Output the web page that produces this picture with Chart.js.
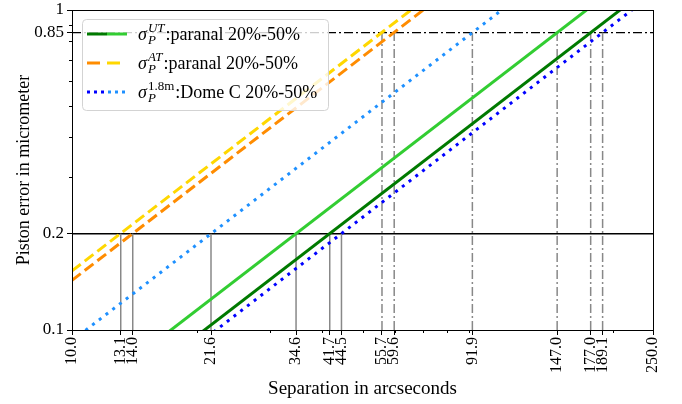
<!DOCTYPE html>
<html>
<head>
<meta charset="utf-8">
<script src="https://cdn.jsdelivr.net/npm/chart.js@4"></script>
<style>
  html, body { margin: 0; padding: 0; background: #fff; }
  #chart { display: block; }
</style>
</head>
<body>
<canvas id="chart" width="682" height="404"></canvas>
<script>
// tick labels
const xTickValues = [10.0, 13.1, 14.0, 21.6, 34.6, 41.7, 44.5, 55.7, 59.6, 91.9, 147.0, 177.0, 189.1, 250.0];
const yTickValues = [0.1, 0.2, 0.85, 1];
const yTickLabels = ["0.1", "0.2", "0.85", "1"];
const xMinorTicks = [20, 30, 40, 50, 60, 70, 80, 90, 200];
const yMinorTicks = [0.3, 0.4, 0.5, 0.6, 0.7, 0.8, 0.9];

// each series is a straight line in log-log, given at both ends of the x range
const lineEnds = [10, 250];
const utDark = [0.048, 1.20];
const utLight = [0.0578, 1.445];
const atOrange = [0.143, 3.57];
const atGold = [0.153, 3.82];
const domeBlue = [0.045, 1.124];
const domeLight = [0.0926, 2.31];

// separations where the curves reach 0.2 and 0.85 micrometer
const sepAt02 = [13.1, 14.0, 21.6, 34.6, 41.7, 44.5];
const sepAt085 = [55.7, 59.6, 91.9, 147.0, 177.0, 189.1];
const levelLow = 0.2;
const levelHigh = 0.85;

const FONT = "'Liberation Serif', 'Times New Roman', serif";
const dashDot = [9, 3, 2, 3];
const dotted = [3, 5.5];
const dashed = [11, 5];

function pts(ys) {
  return lineEnds.map((x, i) => ({ x: x, y: ys[i] }));
}

function series(ys, color, dash) {
  return {
    data: pts(ys),
    borderColor: color,
    borderWidth: 3,
    borderDash: dash,
    pointRadius: 0,
    showLine: true,
    order: 0,
  };
}

const datasets = [];

// reference lines
datasets.push({
  data: [{ x: 10, y: levelLow }, { x: 250, y: levelLow }],
  borderColor: "#000", borderWidth: 1.5, pointRadius: 0, showLine: true, order: 5,
});
datasets.push({
  data: [{ x: 10, y: levelHigh }, { x: 250, y: levelHigh }],
  borderColor: "#000", borderWidth: 1.2, borderDash: dashDot, pointRadius: 0, showLine: true, order: 5,
});
sepAt02.forEach((s) => {
  datasets.push({
    data: [{ x: s, y: 0.1 }, { x: s, y: levelLow }],
    borderColor: "#888", borderWidth: 1.5, pointRadius: 0, showLine: true, order: 4,
  });
});
sepAt085.forEach((s) => {
  datasets.push({
    data: [{ x: s, y: 0.1 }, { x: s, y: levelHigh }],
    borderColor: "#888", borderWidth: 1.5, borderDash: dashDot, pointRadius: 0, showLine: true, order: 4,
  });
});

datasets.push(series(utDark, "#007a00"));
datasets.push(series(utLight, "#32cd32"));
datasets.push(series(atOrange, "#ff8c00", dashed));
datasets.push(series(atGold, "#ffd700", dashed));
datasets.push(series(domeBlue, "#0000ff", dotted));
datasets.push(series(domeLight, "#1e90ff", dotted));

const frameAndTicks = {
  id: "frameAndTicks",
  afterDraw(chart) {
    const ctx = chart.ctx;
    const a = chart.chartArea;
    const xs = chart.scales.x;
    const ys = chart.scales.y;
    ctx.save();
    ctx.strokeStyle = "#000";
    ctx.lineWidth = 1;
    ctx.strokeRect(a.left + 0.5, a.top + 0.5, a.right - a.left, a.bottom - a.top);
    ctx.beginPath();
    xMinorTicks.forEach((v) => {
      const px = Math.round(xs.getPixelForValue(v)) + 0.5;
      ctx.moveTo(px, a.bottom);
      ctx.lineTo(px, a.bottom + 3);
    });
    yMinorTicks.forEach((v) => {
      const py = Math.round(ys.getPixelForValue(v)) + 0.5;
      ctx.moveTo(a.left, py);
      ctx.lineTo(a.left - 3, py);
    });
    ctx.stroke();
    ctx.restore();
  },
};

function drawSigma(ctx, x, y, sup, supItalic, rest) {
  const fs = 18;
  const sm = 13;
  ctx.font = "italic " + fs + "px " + FONT;
  ctx.fillText("σ", x, y);
  x += ctx.measureText("σ").width + 1;
  ctx.font = (supItalic ? "italic " : "") + sm + "px " + FONT;
  ctx.fillText(sup, x, y - 8);
  const w1 = ctx.measureText(sup).width;
  ctx.font = "italic " + sm + "px " + FONT;
  ctx.fillText("P", x, y + 4);
  const w2 = ctx.measureText("P").width;
  x += Math.max(w1, w2) + 1;
  ctx.font = fs + "px " + FONT;
  ctx.fillText(rest, x, y);
}

const legendBox = {
  id: "legendBox",
  afterDraw(chart) {
    const ctx = chart.ctx;
    const bx = 82, by = 19, bw = 246, bh = 91, r = 4;
    ctx.save();
    ctx.beginPath();
    ctx.roundRect(bx + 0.5, by + 0.5, bw, bh, r);
    ctx.fillStyle = "rgba(255,255,255,0.8)";
    ctx.fill();
    ctx.strokeStyle = "#d3d3d3";
    ctx.lineWidth = 1;
    ctx.stroke();

    const rows = [34, 63, 92];
    const seg = (x1, x2, y, color, dash) => {
      ctx.beginPath();
      ctx.setLineDash(dash || []);
      ctx.strokeStyle = color;
      ctx.lineWidth = 3;
      ctx.moveTo(x1, y);
      ctx.lineTo(x2, y);
      ctx.stroke();
    };
    seg(87, 107, rows[0], "#007a00");
    seg(107, 127, rows[0], "#32cd32");
    seg(87, 100, rows[1], "#ff8c00");
    seg(107, 120, rows[1], "#ffd700");
    seg(87, 107, rows[2], "#0000ff", [3, 4]);
    seg(108, 127, rows[2], "#1e90ff", [3, 4]);
    ctx.setLineDash([]);

    ctx.fillStyle = "#000";
    ctx.textBaseline = "alphabetic";
    ctx.textAlign = "left";
    drawSigma(ctx, 138, rows[0] + 6, "UT", true, ":paranal 20%-50%");
    drawSigma(ctx, 138, rows[1] + 6, "AT", true, ":paranal 20%-50%");
    drawSigma(ctx, 138, rows[2] + 6, "1.8m", false, ":Dome C 20%-50%");
    ctx.restore();
  },
};

new Chart(document.getElementById("chart"), {
  type: "scatter",
  data: { datasets: datasets },
  options: {
    responsive: false,
    animation: false,
    devicePixelRatio: 1,
    layout: { padding: { top: 10, right: 29, left: 0, bottom: 0 } },
    plugins: { legend: { display: false }, tooltip: { enabled: false } },
    scales: {
      x: {
        type: "logarithmic",
        min: 10,
        max: 250,
        afterBuildTicks: (scale) => {
          scale.ticks = xTickValues.map((v) => ({ value: v }));
        },
        afterFit: (scale) => {
          scale.height = 74;
          scale.paddingLeft = 0;
          scale.paddingRight = 0;
        },
        ticks: {
          autoSkip: false,
          minRotation: 90,
          maxRotation: 90,
          padding: 2,
          color: "#000",
          font: { family: FONT, size: 16 },
          callback: (v) => Number(v).toFixed(1),
        },
        grid: { drawOnChartArea: false, tickLength: 5, color: "#000" },
        border: { color: "#000" },
        title: {
          display: true,
          text: "Separation in arcseconds",
          color: "#000",
          font: { family: FONT, size: 19 },
          padding: { top: 0, bottom: 4 },
        },
      },
      y: {
        type: "logarithmic",
        min: 0.1,
        max: 1,
        afterBuildTicks: (scale) => {
          scale.ticks = yTickValues.map((v) => ({ value: v }));
        },
        afterFit: (scale) => {
          scale.width = 72;
          scale.paddingTop = 0;
          scale.paddingBottom = 0;
        },
        ticks: {
          autoSkip: false,
          padding: 3,
          color: "#000",
          font: { family: FONT, size: 17 },
          callback: (v) => yTickLabels[yTickValues.indexOf(v)] ?? "",
        },
        grid: { drawOnChartArea: false, tickLength: 5, color: "#000" },
        border: { color: "#000" },
        title: {
          display: true,
          text: "Piston error in micrometer",
          color: "#000",
          font: { family: FONT, size: 18 },
          padding: { top: 13, bottom: 0 },
        },
      },
    },
  },
  plugins: [frameAndTicks, legendBox],
});
</script>
</body>
</html>
